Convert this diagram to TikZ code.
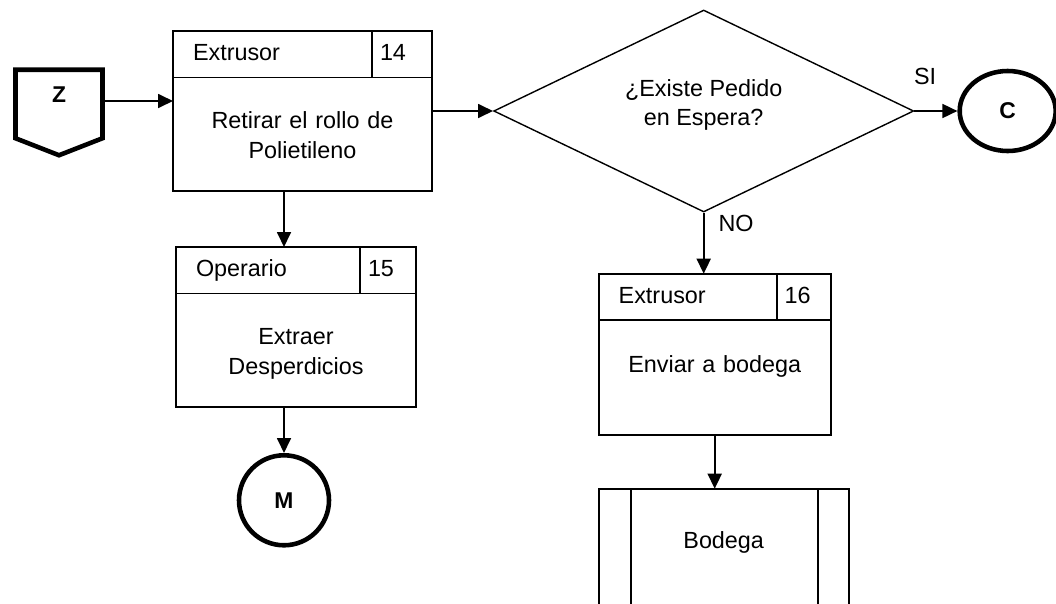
\documentclass[tikz,border=0pt]{standalone}
\usepackage{fontspec}
\setmainfont{Liberation Sans}
\usetikzlibrary{positioning,shapes.geometric,arrows.meta}
\tikzset{
  box/.style={draw,line width=1pt,outer sep=0pt,minimum width=#1,minimum height=3.2cm},
  head/.style={draw,line width=1pt,outer sep=0pt,inner sep=0pt,inner xsep=0.4cm,text width=#1,align=left,minimum height=0.93cm,text height=0.72em,text depth=0pt,anchor=north west},
  num/.style={draw,line width=1pt,outer sep=0pt,inner sep=0pt,inner xsep=0.16cm,text width=#1,align=left,minimum height=0.93cm,text height=0.72em,text depth=0pt},
  body/.style={inner sep=0pt,align=center,text width=4.4cm},
  conn/.style={draw,line width=2.6pt,inner sep=0pt,font=\fontsize{13}{15}\selectfont\bfseries},
  zconn/.style={inner sep=0pt,outer sep=0pt,minimum width=1.74cm,minimum height=1.37cm,text height=0.3cm,text depth=0.36cm,font=\fontsize{13}{15}\selectfont\bfseries},
  dec/.style={draw,diamond,aspect=2.08,line width=0.8pt,inner sep=0pt,align=center,minimum width=8.4cm,minimum height=4.04cm,text depth=0.34cm},
  arr/.style={line width=1pt,-{Triangle[length=0.3cm,width=0.28cm]}}
}
\begin{document}
\begin{tikzpicture}[font=\fontsize{13.3}{17}\selectfont]
\useasboundingbox (0,0) rectangle (21.12,-12.06);
% paso 14
\node[box=5.18cm] (b14) at (6.05,-2.22) {};
\node[head=3.18cm] (h14) at (b14.north west) {Extrusor};
\node[num=0.88cm,right=0pt of h14] (n14) {14};
\node[body,below=1.61cm of b14.north] (t14) {Retirar el rollo de\\Polietileno};
% conector Z
\node[zconn] (z) [left=1.41cm of b14,yshift=0.14cm] {Z};
\draw[line width=2.6pt] (z.south west) -- (z.north west) -- (z.north east) -- (z.south east) -- ([yshift=-0.34cm]z.south) -- cycle;
% decision
\node[dec] (dec) [right=1.22cm of b14] {¿Existe Pedido\\en Espera?};
\node[conn,ellipse,minimum width=1.92cm,minimum height=1.6cm] (C) [right=0.86cm of dec] {C};
% paso 15
\node[box=4.8cm] (b15) [below right=1.12cm and 0.06cm of b14.south west] {};
\node[head=2.88cm] (h15) at (b15.north west) {Operario};
\node[num=0.8cm,right=0pt of h15] (n15) {15};
\node[body,below=1.63cm of b15.north] (t15) {Extraer\\Desperdicios};
\node[conn,circle,minimum size=1.8cm] (M) [below=0.92cm of b15,xshift=-0.24cm] {M};
% paso 16
\node[box=4.64cm,minimum height=3.22cm] (b16) [below=1.22cm of dec,xshift=0.22cm] {};
\node[head=2.76cm] (h16) at (b16.north west) {Extrusor};
\node[num=0.76cm,right=0pt of h16] (n16) {16};
\node[body,below=1.63cm of b16.north] (t16) {Enviar a bodega};
% bodega
\node[draw,line width=1pt,outer sep=0pt,minimum width=5cm,minimum height=3cm] (bod) [below right=1.08cm and 0cm of b16.south west] {};
\draw[line width=1pt] ([xshift=0.64cm]bod.north west) -- ([xshift=0.64cm]bod.south west)
  ([xshift=-0.62cm]bod.north east) -- ([xshift=-0.62cm]bod.south east);
\node[body,below=0.85cm of bod.north] (t17) {Bodega};
% flechas
\draw[arr] ([yshift=0.06cm]z.east) -- ([yshift=0.06cm]z.east -| b14.west);
\draw[arr] (b14) -- (dec);
\draw[arr] (dec) -- node[above=0.5cm,pos=0.25,inner sep=0pt] {SI} (C);
\draw[arr] (dec) -- node[right=0.28cm,pos=0.18,inner sep=0pt] {NO} (dec.south |- b16.north);
\draw[arr] (b14.south -| M) -- (b15.north -| M);
\draw[arr] (b15.south -| M) -- (M);
\draw[arr] (b16) -- (b16.south |- bod.north);
\end{tikzpicture}
\end{document}
